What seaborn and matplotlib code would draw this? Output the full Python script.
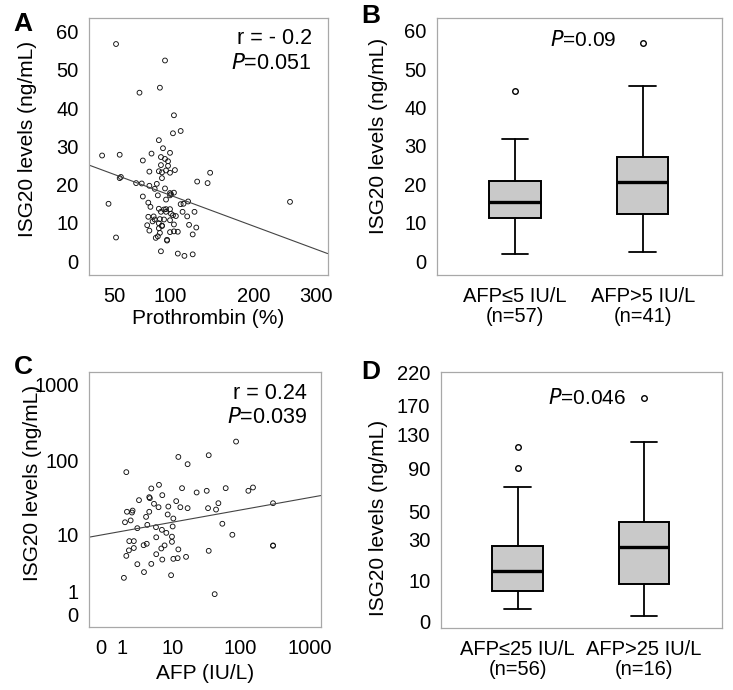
import numpy as np
import matplotlib
matplotlib.use('Agg')
from matplotlib import pyplot as plt
import seaborn as sns

# panel A: prothrombin (%) vs ISG20 (ng/mL)
prothrombin = [51, 95, 71, 90, 104, 103, 111, 89, 40, 54, 93, 82, 100, 91, 95, 98, 91, 98, 74,
               80, 89, 92, 96, 100, 105, 92, 54, 55, 144, 129, 141, 68, 73, 80, 87, 85, 95,
               100, 101, 104, 100, 74, 88, 45, 79, 81, 96, 111, 114, 119, 256,
               89, 94, 96, 100, 91, 96, 101, 103, 106, 113, 126,
               79, 84, 85, 90, 118, 78, 83, 89, 92, 94, 100, 104, 120, 128,
               80, 89, 92, 90, 100, 104, 108, 124, 51, 86, 88, 97, 97, 91, 108, 115, 124]
isg20_a = [56.7, 52.4, 44.0, 45.3, 38.1, 33.4, 34.0, 31.6, 27.6, 27.8, 29.5, 28.1, 28.3, 27.2, 26.7, 26.1, 25.1, 24.9, 26.3,
           23.4, 23.5, 23.2, 23.7, 23.1, 23.8, 21.7, 21.7, 22.0, 23.1, 20.8, 20.4, 20.4, 20.3, 19.7, 20.2, 18.9, 19.0,
           17.8, 17.5, 17.9, 17.2, 16.9, 17.2, 15.0, 15.3, 14.2, 16.1, 14.9, 15.0, 15.6, 15.5,
           13.7, 13.5, 13.6, 13.6, 12.9, 12.9, 12.4, 12.0, 11.8, 12.9, 12.9,
           11.6, 11.7, 10.9, 11.0, 11.7, 9.4, 10.4, 9.9, 9.3, 10.9, 10.7, 9.6, 9.5, 8.8,
           8.0, 8.6, 9.2, 7.4, 7.6, 7.8, 7.7, 7.0, 6.2, 6.1, 6.5, 5.6, 5.4, 2.6, 2.0, 1.4, 1.8]
fit_a_x = [30.2, 322.7]
fit_a_y = [25.1, 2.0]

# panel C: AFP (IU/L) vs ISG20 (ng/mL)
afp = [1.34, 12.1, 34.8, 87.5, 16.8,
       5.9, 4.35, 6.7, 4.0, 4.1, 2.56, 13.8, 23, 32.5, 61.8, 132, 154,
       4.85, 5.8, 8.4, 11.2, 13.0, 16.8, 34.0, 44.6, 48.3, 300,
       1.39, 1.82, 1.88, 4.0, 3.5, 8.2, 10.1, 9.85, 1.70, 1.24, 2.37, 3.69, 5.25, 6.6, 7.8, 55.2,
       1.58, 2.0, 5.3, 9.6, 9.6, 77.3, 1.55, 2.0, 1.34, 3.15, 3.6, 6.45, 7.3, 12.1, 5.3, 6.7, 10.1, 11.8, 15.9, 34.8, 300, 300,
       2.37, 4.35, 3.2, 9.3, 1.16, 42.6]
isg20_c = [70.7, 112, 118, 178, 90,
           48, 43, 35, 32.9, 31.9, 30, 43.4, 38, 40, 43.4, 40, 44.3,
           26.8, 24.1, 24.6, 29.1, 24.1, 23.4, 23.4, 22.4, 27.3, 27.3,
           20.9, 20.4, 21.7, 20.9, 17.8, 19.2, 16.9, 13.1, 15.9, 15.0, 12.4, 13.8, 12.8, 11.75, 10.65, 14.3,
           8.1, 8.1, 9.2, 9.4, 7.9, 10.0, 5.9, 6.4, 4.85, 7.05, 7.4, 6.3, 7.0, 6.1, 5.15, 4.24, 4.35, 4.46, 4.68, 5.8, 7.0, 6.9,
           3.56, 3.6, 2.6, 2.28, 2.03, 0.86]
fit_c_x = [-0.32, 1471]
fit_c_y = [9.23, 34.6]

# panel B / D: box summaries (whisker low, q1, median, q3, whisker high)
groups_b = ['AFP≤5 IU/L\n(n=57)', 'AFP>5 IU/L\n(n=41)']
box_b = [[2.0, 11.2, 15.3, 20.9, 31.9], [2.3, 12.2, 20.5, 27.1, 45.5]]
out_b = [[44.2], [56.8]]
groups_d = ['AFP≤25 IU/L\n(n=56)', 'AFP>25 IU/L\n(n=16)']
box_d = [[2.0, 6.3, 13.7, 26.0, 71.4], [0.8, 8.5, 25.8, 42.2, 120]]
out_d = [[90.5, 114], [181]]

sns.set_style('white')
plt.rcParams['font.family'] = ['Liberation Sans', 'DejaVu Sans']
plt.rcParams['text.color'] = 'black'
plt.rcParams['axes.labelcolor'] = 'black'

GRAY = '#a8a8a8'


def log_fwd(v, c):
    return np.log10(np.maximum(np.asarray(v, dtype=float) + c, 1e-6))


def style_axes(ax):
    for s in ax.spines.values():
        s.set_color(GRAY)
        s.set_linewidth(0.9)
    ax.tick_params(axis='both', colors=GRAY, labelcolor='black', width=0.8,
                   labelsize=14.5, direction='out')
    ax.tick_params(axis='y', length=5, pad=2.5)
    ax.tick_params(axis='x', length=3.5, pad=5)
    ax.minorticks_off()


def scatter_panel(ax, x, y, fx, fy):
    sns.scatterplot(x=x, y=y, ax=ax, s=12, facecolors='none', edgecolor='#111111',
                    linewidth=0.65, marker='o')
    ax.plot(fx, fy, color='#444444', lw=0.8)


def box_panel(ax, box, outs, labels):
    stats = []
    for b, o in zip(box, outs):
        stats.append(dict(whislo=b[0], q1=b[1], med=b[2], q3=b[3], whishi=b[4], fliers=o))
    ax.bxp(stats, positions=[0, 1], widths=0.4, capwidths=0.21, patch_artist=True,
           boxprops=dict(facecolor='#c9c9c9', edgecolor='black', linewidth=1.4),
           medianprops=dict(color='black', linewidth=2.4),
           whiskerprops=dict(color='black', linewidth=1.3),
           capprops=dict(color='black', linewidth=1.3),
           flierprops=dict(marker='o', markersize=4, markerfacecolor='none',
                           markeredgecolor='black', markeredgewidth=1.0))
    ax.set_xlim(-0.61, 1.62)
    ax.set_xticks([0, 1])
    ax.set_xticklabels(labels, fontsize=13.5, linespacing=1.05)


fig = plt.figure(figsize=(7.33, 6.9), dpi=100)
axA = fig.add_axes([0.1214, 0.6014, 0.3256, 0.372])
axB = fig.add_axes([0.5962, 0.6014, 0.3888, 0.3729])
axC = fig.add_axes([0.1214, 0.0909, 0.3165, 0.3704])
axD = fig.add_axes([0.6012, 0.0894, 0.3838, 0.3719])

# A
axA.set_xscale('function', functions=(lambda v: log_fwd(v, 150), lambda t: 10 ** t - 150))
scatter_panel(axA, prothrombin, isg20_a, fit_a_x, fit_a_y)
axA.set_xlim(30.2, 322.7)
axA.set_ylim(-3.6, 63.4)
axA.set_xticks([50, 100, 200, 300])
axA.set_xticklabels(['50', '100', '200', '300'])
axA.set_yticks(range(0, 61, 10))
axA.set_xlabel('Prothrombin (%)', fontsize=15)
axA.text(0.933, 0.923, 'r = - 0.2', transform=axA.transAxes, ha='right', va='center', fontsize=15.5)
axA.text(0.933, 0.825, r'$\it{P}$=0.051', transform=axA.transAxes, ha='right', va='center', fontsize=15.5)

# B
box_panel(axB, box_b, out_b, groups_b)
axB.set_ylim(-3.6, 63.4)
axB.set_yticks(range(0, 61, 10))
axB.text(0.513, 0.913, r'$\it{P}$=0.09', transform=axB.transAxes, ha='center', va='center', fontsize=15)

# C
log1 = (lambda v: log_fwd(v, 1), lambda t: 10 ** t - 1)
axC.set_xscale('function', functions=log1)
axC.set_yscale('function', functions=log1)
scatter_panel(axC, afp, isg20_c, fit_c_x, fit_c_y)
axC.set_xlim(-0.32, 1471)
axC.set_ylim(-0.31, 1448)
ticks_c = [0, 1, 10, 100, 1000]
axC.set_xticks(ticks_c)
axC.set_xticklabels([str(t) for t in ticks_c])
axC.set_yticks(ticks_c)
axC.set_yticklabels([str(t) for t in ticks_c])
axC.set_xlabel('AFP (IU/L)', fontsize=15)
axC.text(0.941, 0.915, 'r = 0.24', transform=axC.transAxes, ha='right', va='center', fontsize=15.5)
axC.text(0.941, 0.82, r'$\it{P}$=0.039', transform=axC.transAxes, ha='right', va='center', fontsize=15.5)

# D
axD.set_yscale('function', functions=(lambda v: np.sqrt(np.maximum(np.asarray(v, dtype=float) + 1, 0)),
                                      lambda t: np.asarray(t) ** 2 - 1))
box_panel(axD, box_d, out_d, groups_d)
axD.set_ylim(-0.6, 222)
ticks_d = [0, 10, 30, 50, 90, 130, 170, 220]
axD.set_yticks(ticks_d)
axD.set_yticklabels([str(t) for t in ticks_d])
axD.text(0.519, 0.899, r'$\it{P}$=0.046', transform=axD.transAxes, ha='center', va='center', fontsize=15)

for ax in [axA, axB, axC, axD]:
    style_axes(ax)
    ax.set_ylabel('ISG20 levels (ng/mL)', fontsize=15)

axA.yaxis.set_label_coords(-0.218, 0.530)
axB.yaxis.set_label_coords(-0.172, 0.540)
axC.yaxis.set_label_coords(-0.203, 0.565)
axD.yaxis.set_label_coords(-0.187, 0.43)
axA.xaxis.set_label_coords(0.5, -0.132)
axC.xaxis.set_label_coords(0.5, -0.144)

for lab, (px, py) in zip('ABCD', [(23, 24), (371, 16), (23, 367), (371, 372)]):
    fig.text(px / 733, 1 - py / 690, lab, fontsize=19, fontweight='bold', ha='center', va='center')

fig.savefig('out.png', dpi=100)
